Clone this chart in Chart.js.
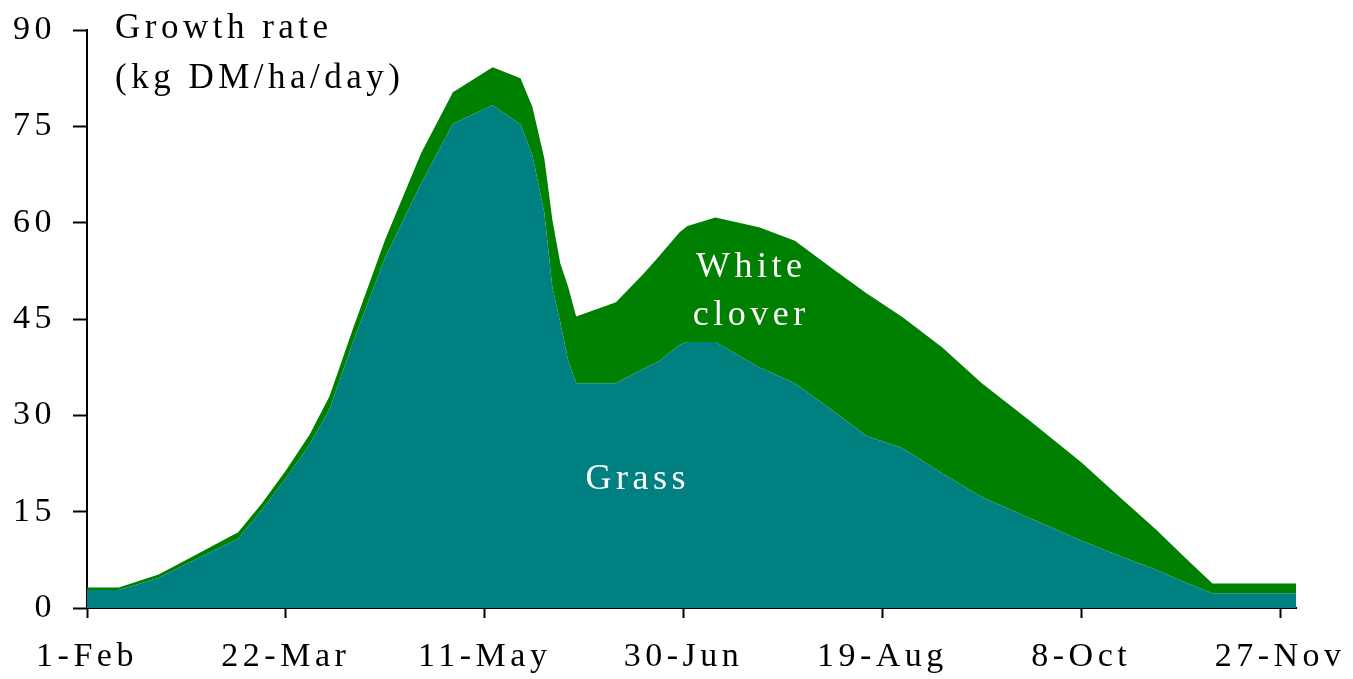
<!DOCTYPE html>
<html>
<head>
<meta charset="utf-8">
<script src="https://cdn.jsdelivr.net/npm/chart.js@4/dist/chart.umd.min.js"></script>
<style>
  html, body { margin: 0; padding: 0; background: #fff; }
  #wrap { width: 1353px; height: 679px; }
</style>
</head>
<body>
<div id="wrap"><canvas id="growth"></canvas></div>
<script>
// days after 1-Feb
const days = [0, 8, 18, 28, 38, 44, 50, 56, 61, 67, 75, 84, 92, 102, 109, 112, 115, 117, 119, 121, 123,
    133, 140, 144, 149, 151, 158, 169, 178, 188, 196, 205, 215, 225, 237, 250, 260, 269, 276, 283, 304];
const grass = [2.8, 2.8, 4.7, 7.8, 10.8, 15.3, 20.2, 25.5, 31.0, 41.6, 54.6, 66.1, 75.4, 78.3, 75.3, 70.5, 61.5, 50.0, 44.5, 38.5, 35.0,
    35.0, 37.3, 38.5, 41.0, 41.4, 41.4, 37.5, 35.0, 30.5, 26.8, 24.9, 21.0, 17.3, 14.0, 10.5, 8.0, 5.9, 4.0, 2.3, 2.3];
const clover = [0.4, 0.4, 0.5, 0.7, 1.0, 1.0, 1.2, 1.5, 2.0, 2.1, 2.8, 4.7, 4.9, 5.9, 7.2, 7.5, 8.5, 10.5, 9.2, 11.5, 10.4,
    12.6, 14.8, 16.4, 17.5, 18.1, 19.4, 21.8, 22.2, 22.1, 22.2, 20.4, 19.6, 17.7, 15.2, 12.2, 9.1, 6.2, 3.9, 1.5, 1.5];

const tickDays = [0, 50, 100, 150, 200, 250, 300];
const tickLabels = ['1-Feb', '22-Mar', '11-May', '30-Jun', '19-Aug', '8-Oct', '27-Nov'];
const yTicks = [0, 15, 30, 45, 60, 75, 90];
const yTitle = ['Growth rate', '(kg DM/ha/day)'];

const FONT = "'Liberation Serif', 'Times New Roman', serif";
const SPACING = '4.5px';

const spacingPlugin = {
    id: 'spacing',
    beforeUpdate: (chart) => { chart.ctx.letterSpacing = SPACING; },
    beforeLayout: (chart) => { chart.ctx.letterSpacing = SPACING; },
    beforeDraw: (chart) => { chart.ctx.letterSpacing = SPACING; }
};

const textPlugin = {
    id: 'texts',
    afterDatasetsDraw(chart) {
        const ctx = chart.ctx;
        const x = chart.scales.x;
        const y = chart.scales.y;
        ctx.save();
        ctx.letterSpacing = SPACING;
        ctx.font = '35px ' + FONT;
        ctx.textBaseline = 'alphabetic';
        ctx.fillStyle = '#000';
        ctx.textAlign = 'left';
        ctx.fillText(yTitle[0], 115, 38);
        ctx.fillText(yTitle[1], 115, 88);

        ctx.fillStyle = '#fff';
        ctx.textAlign = 'center';
        ctx.font = '36px ' + FONT;
        ctx.fillText('White', x.getPixelForValue(167), y.getPixelForValue(51.6));
        ctx.fillText('clover', x.getPixelForValue(167), y.getPixelForValue(44));
        ctx.fillText('Grass', x.getPixelForValue(138.5), y.getPixelForValue(18.5));
        ctx.restore();
    }
};

new Chart(document.getElementById('growth'), {
    type: 'line',
    data: {
        datasets: [{
            label: 'Grass',
            data: days.map((d, i) => ({ x: d, y: grass[i] })),
            backgroundColor: '#008080',
            borderWidth: 0,
            pointRadius: 0,
            fill: 'origin'
        }, {
            label: 'White clover',
            data: days.map((d, i) => ({ x: d, y: clover[i] })),
            backgroundColor: '#008000',
            borderWidth: 0,
            pointRadius: 0,
            fill: '-1'
        }]
    },
    options: {
        responsive: true,
        maintainAspectRatio: false,
        animation: false,
        layout: { padding: { left: 0, right: 57, top: 30, bottom: 0 } },
        plugins: {
            legend: { display: false },
            tooltip: { enabled: false }
        },
        scales: {
            x: {
                type: 'linear',
                min: 0,
                max: 304,
                afterBuildTicks: (scale) => { scale.ticks = tickDays.map(v => ({ value: v })); },
                afterFit: (scale) => {
                    scale.height = 71;
                    scale.paddingLeft = 0;
                    scale.paddingRight = 0;
                },
                ticks: {
                    autoSkip: false,
                    maxRotation: 0,
                    padding: 19,
                    color: '#000',
                    font: { family: FONT, size: 34 },
                    callback: (v) => tickLabels[tickDays.indexOf(v)]
                },
                grid: {
                    drawOnChartArea: false,
                    drawTicks: true,
                    tickLength: 10,
                    tickWidth: 2,
                    tickColor: '#000'
                },
                border: { color: '#000', width: 2 }
            },
            y: {
                stacked: true,
                min: 0,
                max: 90,
                afterBuildTicks: (scale) => { scale.ticks = yTicks.map(v => ({ value: v })); },
                afterFit: (scale) => {
                    scale.width = 87;
                    scale.paddingTop = 0;
                    scale.paddingBottom = 0;
                },
                ticks: {
                    padding: 17,
                    color: '#000',
                    font: { family: FONT, size: 34 }
                },
                grid: {
                    drawOnChartArea: false,
                    drawTicks: true,
                    tickLength: 14,
                    tickWidth: 2,
                    tickColor: '#000'
                },
                border: { color: '#000', width: 2 }
            }
        }
    },
    plugins: [spacingPlugin, textPlugin]
});
</script>
</body>
</html>
